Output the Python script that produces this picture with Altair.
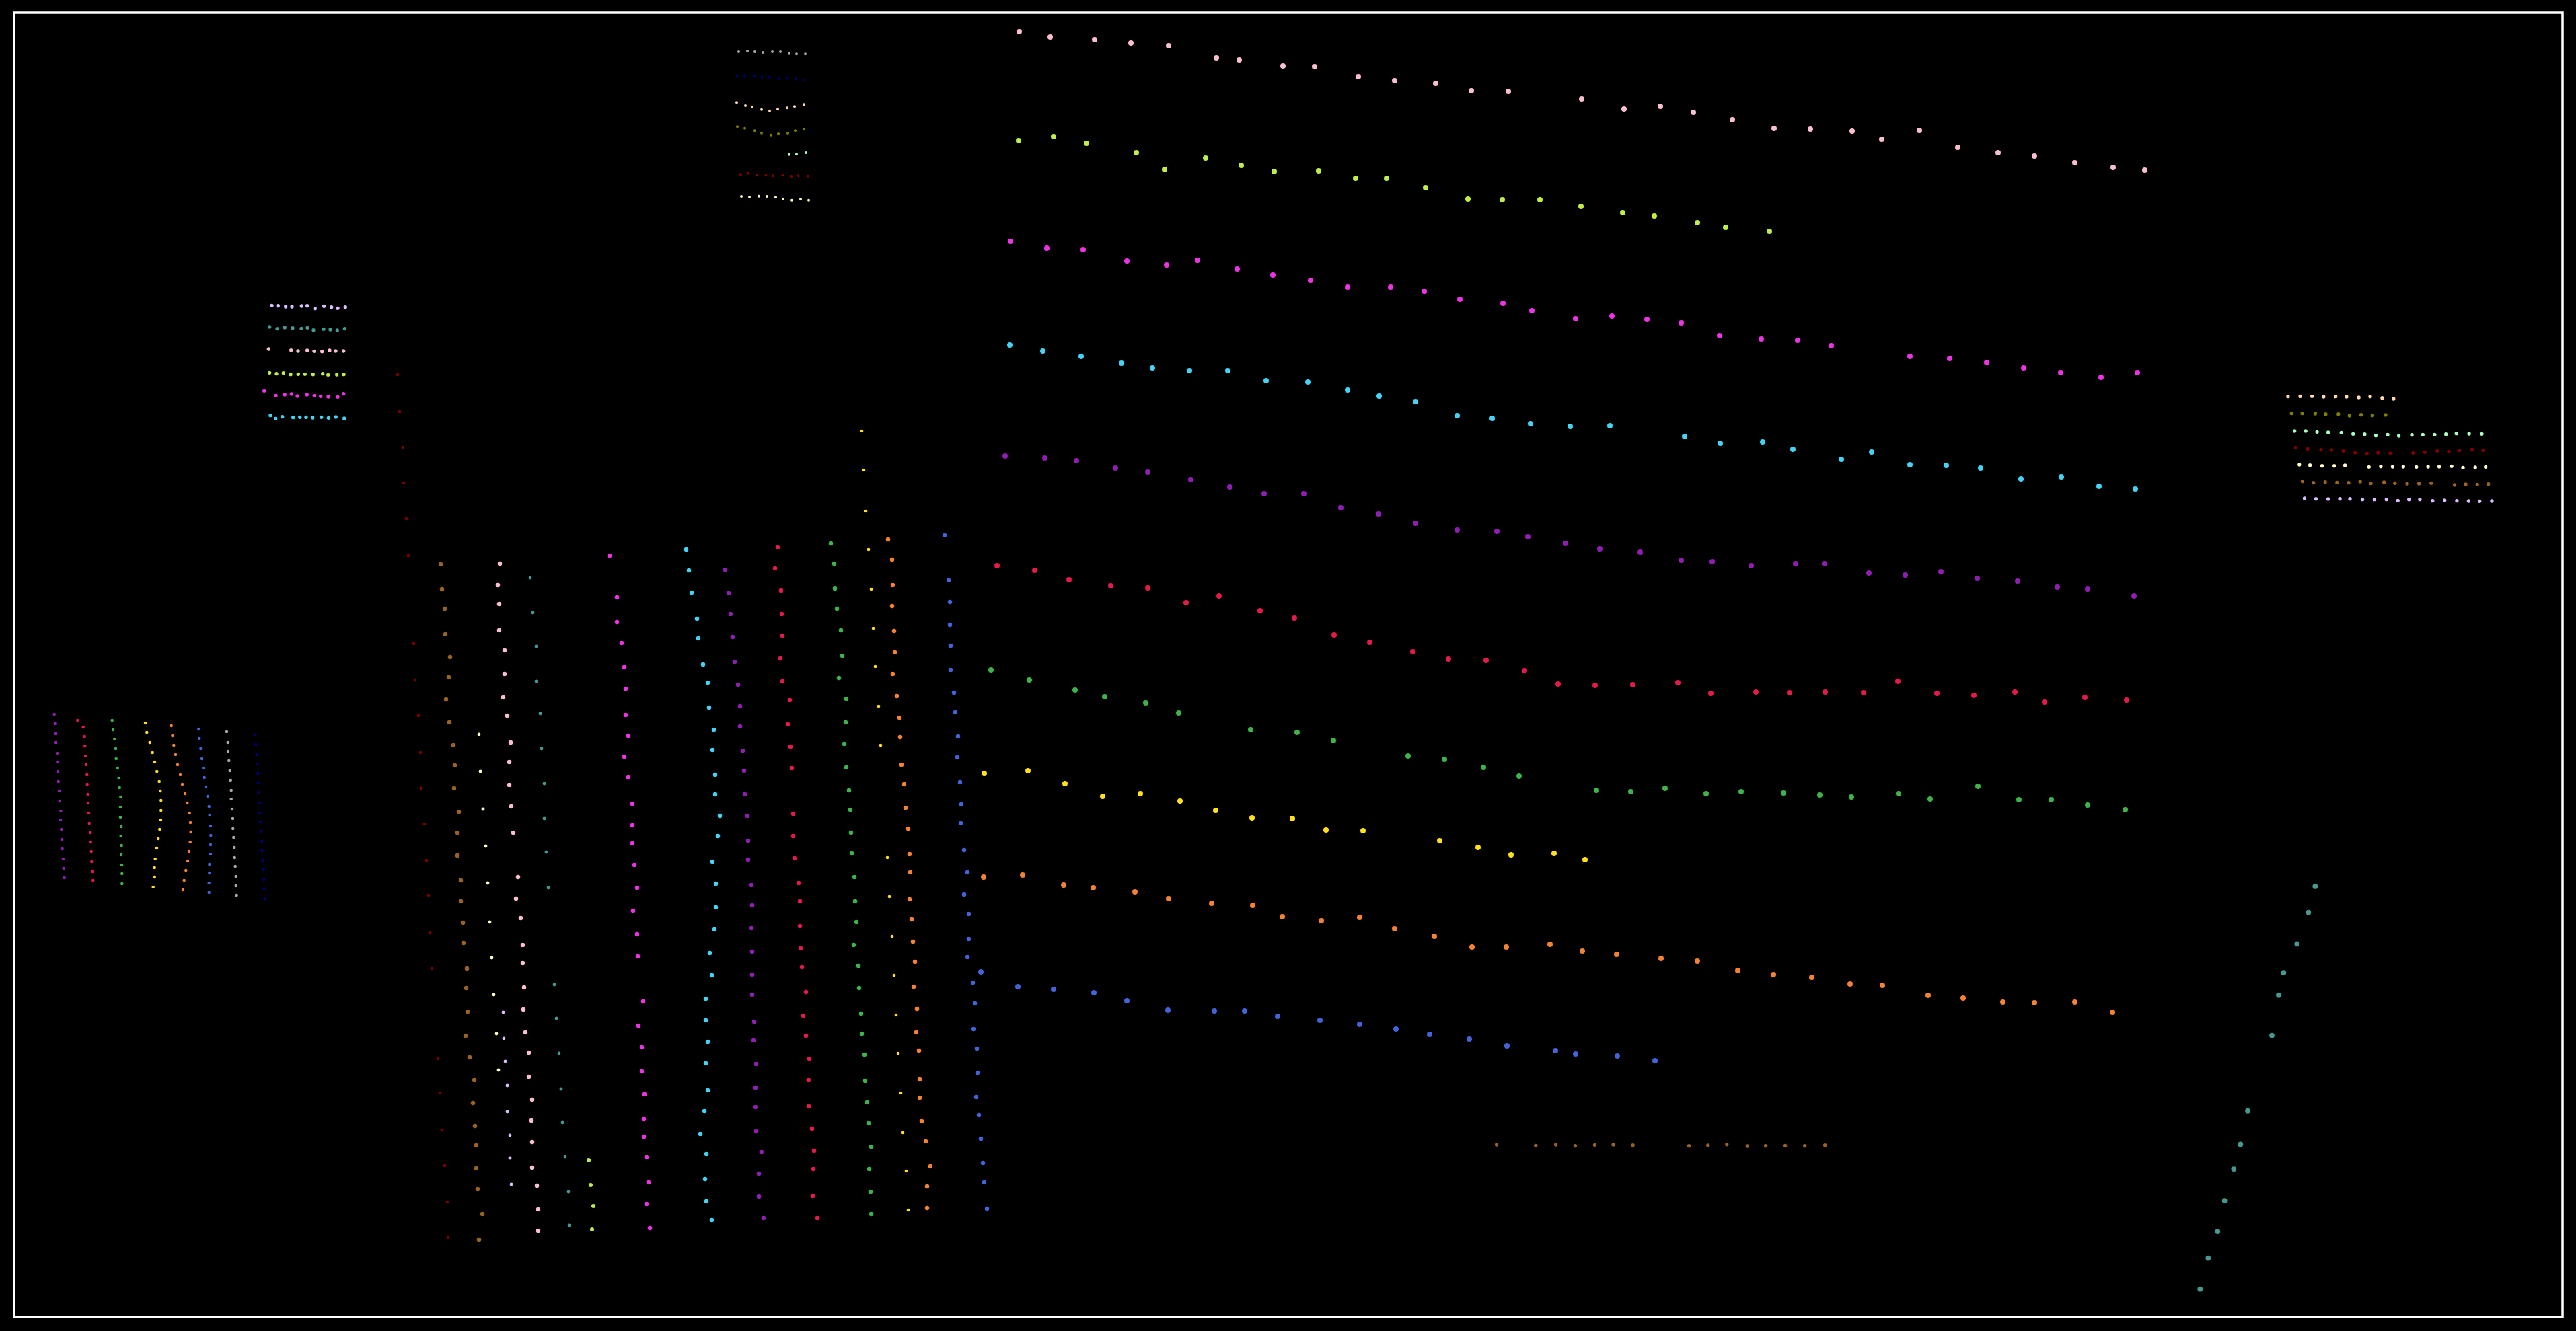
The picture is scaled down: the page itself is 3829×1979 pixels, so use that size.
import altair as alt
import pandas as pd

# ---- palette (series colours) ----
PALETTE = {
    "red": "#e6194B", "green": "#3cb44b", "yellow": "#ffe119", "blue": "#4363d8",
    "orange": "#f58231", "purple": "#911eb4", "cyan": "#42d4f4", "magenta": "#f032e6",
    "lime": "#bfef45", "pink": "#fabed4", "teal": "#469990", "lavender": "#dcbeff",
    "brown": "#9A6324", "beige": "#fffac8", "maroon": "#800000", "mint": "#aaffc3",
    "olive": "#808000", "apricot": "#ffd8b1", "navy": "#000075", "grey": "#a9a9a9",
}

# ---- top-right panel ----
TR_PINK_X = [1515,1561,1627,1681,1737,1808,1842,1907,1954,2019,2073,2134,2187,2242,2351,2414,2468,2517,2575,2637,2691,2753,2797,2853,2910,2970,3024,3084,3141,3188]
TR_PINK_Y = [47,55,59,64,68,86,89,98,99,114,120,124,135,136,147,162,158,167,178,191,192,195,207,194,219,227,232,242,249,253]
TR_LIME_X = [1514,1566,1615,1689,1731,1792,1845,1894,1960,2015,2061,2119,2182,2233,2289,2350,2412,2459,2523,2565,2630]
TR_LIME_Y = [209,203,213,227,252,235,246,255,254,265,265,279,296,297,297,307,316,321,331,338,344]
TR_MAG_X = [1502,1556,1610,1675,1734,1780,1839,1892,1948,2003,2067,2117,2170,2234,2277,2342,2396,2448,2499,2556,2618,2672,2722,2839,2898,2953,3008,3063,3123,3177]
TR_MAG_Y = [359,369,371,388,394,387,400,409,417,427,427,433,445,451,462,474,470,475,480,499,504,506,514,530,533,539,547,554,561,554]
TR_CYAN_X = [1501,1550,1607,1667,1713,1768,1825,1882,1944,2003,2050,2104,2166,2218,2275,2334,2393,2504,2557,2620,2665,2737,2782,2839,2893,2944,3004,3064,3120,3174]
TR_CYAN_Y = [513,522,530,540,547,551,551,566,568,580,589,597,618,622,630,634,633,649,659,657,668,683,672,691,692,696,712,709,723,727]
TR_PURP_X = [1494,1553,1600,1658,1706,1770,1828,1879,1938,1993,2049,2104,2166,2225,2271,2327,2378,2438,2499,2545,2603,2669,2712,2778,2832,2885,2939,2999,3058,3103,3172]
TR_PURP_Y = [678,681,685,696,702,713,724,734,734,755,764,778,788,790,798,808,816,821,833,835,841,838,838,852,855,850,860,864,873,876,886]
TR_RED_X = [1482,1538,1589,1651,1706,1763,1812,1873,1924,1983,2036,2100,2153,2209,2266,2316,2371,2427,2494,2543,2610,2660,2713,2770,2821,2879,2934,2995,3039,3099,3161]
TR_RED_Y = [841,848,862,871,874,896,886,908,919,944,955,969,980,982,997,1017,1019,1018,1015,1031,1029,1030,1029,1030,1013,1031,1034,1029,1044,1037,1041]
TR_GREEN_X = [1473,1530,1598,1642,1703,1752,1859,1928,1982,2093,2147,2205,2258,2373,2424,2475,2536,2588,2651,2705,2752,2822,2869,2940,3001,3049,3103,3159]
TR_GREEN_Y = [996,1011,1026,1036,1045,1060,1085,1089,1101,1124,1129,1141,1154,1175,1177,1172,1180,1177,1179,1182,1185,1180,1188,1169,1189,1189,1197,1204]
TR_YEL_X = [1463,1528,1583,1639,1695,1754,1807,1861,1921,1971,2026,2140,2197,2246,2310,2356]
TR_YEL_Y = [1150,1146,1165,1184,1180,1191,1205,1216,1217,1234,1235,1250,1260,1271,1269,1278]
TR_ORA_X = [1462,1520,1581,1625,1687,1737,1801,1862,1906,1964,2021,2073,2132,2188,2239,2304,2352,2403,2469,2523,2583,2636,2693,2750,2798,2866,2918,2977,3024,3084,3140]
TR_ORA_Y = [1304,1301,1316,1320,1326,1336,1343,1346,1363,1369,1364,1381,1392,1408,1408,1404,1414,1419,1425,1429,1443,1449,1453,1463,1465,1480,1484,1490,1491,1490,1505]
TR_BLUE_X = [1458,1513,1566,1626,1675,1736,1805,1850,1899,1962,2021,2075,2125,2184,2240,2312,2342,2404,2460]
TR_BLUE_Y = [1445,1467,1471,1476,1488,1502,1503,1503,1511,1517,1523,1530,1538,1545,1555,1562,1567,1570,1577]

# ---- centre columns panel ----
CC_MAROON_X = [591,594,599,600,604,607,615,617,622,625,626,631,634,637,639,642,651,654,657,661,665,666]
CC_MAROON_Y = [557,612,665,718,771,826,957,1011,1064,1119,1172,1225,1279,1331,1387,1440,1574,1625,1680,1733,1787,1840]
CC_BROWN_X = [655,657,661,662,669,667,663,668,674,676,675,682,680,680,685,685,688,689,694,693,695,692,698,705,703,706,708,708,710,717,712]
CC_BROWN_Y = [839,876,905,943,977,1007,1040,1074,1108,1138,1172,1207,1238,1272,1309,1340,1372,1402,1440,1469,1504,1540,1572,1606,1640,1674,1703,1737,1768,1805,1843]
CC_BEIGE_X = [712,714,718,722,725,728,731,734,738,741]
CC_BEIGE_Y = [1092,1147,1203,1258,1313,1371,1424,1479,1537,1591]
CC_PINK_X = [743,740,742,742,750,750,748,754,759,757,757,760,763,770,767,774,777,777,779,778,781,786,786,791,790,791,791,798,800,800]
CC_PINK_Y = [838,870,898,937,967,1002,1037,1064,1104,1133,1167,1199,1238,1304,1336,1365,1405,1432,1468,1501,1535,1565,1601,1635,1666,1698,1736,1763,1798,1830]
CC_LAV_X = [748,749,751,754,754,758,758,760]
CC_LAV_Y = [1505,1544,1578,1614,1653,1688,1722,1761]
CC_TEAL_X = [788,792,797,797,803,805,809,809,812,815,824,827,831,834,836,840,845,846]
CC_TEAL_Y = [859,911,961,1013,1061,1113,1165,1217,1267,1320,1464,1514,1566,1619,1669,1720,1772,1822]
CC_LIME_X = [875,878,882,880]
CC_LIME_Y = [1725,1762,1793,1828]
CC_MAG_X = [906,917,917,924,928,930,930,934,928,934,940,940,940,943,947,941,947,948,956,949,954,954,958,957,957,961,964,961,966]
CC_MAG_Y = [826,888,925,956,992,1024,1063,1094,1125,1156,1195,1227,1254,1286,1320,1354,1389,1422,1489,1525,1557,1593,1627,1664,1690,1721,1758,1790,1826]
CC_CYAN_X = [1020,1024,1028,1036,1038,1045,1052,1054,1061,1059,1063,1063,1070,1067,1059,1064,1064,1062,1055,1058,1049,1049,1052,1049,1052,1047,1041,1050,1048,1050,1058]
CC_CYAN_Y = [817,848,881,920,949,988,1015,1052,1085,1115,1152,1181,1213,1243,1281,1314,1349,1382,1417,1450,1485,1517,1549,1581,1621,1652,1686,1716,1753,1786,1814]
CC_PURP_X = [1078,1083,1086,1089,1092,1097,1100,1100,1104,1106,1107,1111,1112,1112,1117,1118,1117,1118,1118,1118,1121,1120,1124,1123,1123,1124,1132,1128,1128,1135]
CC_PURP_Y = [847,882,913,947,984,1018,1050,1080,1116,1146,1181,1213,1250,1278,1316,1346,1380,1415,1449,1479,1519,1547,1582,1617,1646,1682,1713,1745,1779,1811]
CC_RED_X = [1156,1152,1161,1162,1163,1160,1163,1174,1171,1175,1177,1179,1179,1181,1187,1189,1189,1190,1192,1198,1194,1198,1203,1202,1202,1207,1210,1209,1208,1215]
CC_RED_Y = [814,845,878,913,945,979,1013,1041,1077,1110,1142,1210,1243,1276,1313,1340,1377,1410,1438,1475,1510,1540,1574,1606,1645,1678,1711,1738,1778,1811]
CC_GREEN_X = [1235,1240,1241,1244,1250,1252,1247,1258,1257,1255,1258,1262,1264,1265,1266,1270,1271,1273,1269,1276,1277,1280,1281,1285,1286,1289,1291,1295,1292,1294,1295]
CC_GREEN_Y = [808,838,875,905,937,975,1008,1039,1074,1106,1141,1175,1204,1238,1269,1304,1340,1371,1405,1436,1469,1507,1537,1568,1607,1639,1670,1705,1738,1772,1805]
CC_YEL_X = [1281,1284,1287,1291,1295,1298,1301,1306,1309,1319,1322,1326,1329,1332,1335,1339,1342,1347,1350]
CC_YEL_Y = [641,699,760,817,876,934,991,1050,1108,1275,1333,1392,1450,1509,1566,1625,1684,1741,1799]
CC_ORA_X = [1320,1326,1327,1326,1329,1330,1327,1333,1337,1338,1340,1344,1346,1350,1352,1353,1352,1355,1357,1360,1358,1363,1362,1366,1367,1367,1370,1376,1383,1378,1378]
CC_ORA_Y = [802,832,870,901,938,970,1002,1035,1067,1096,1137,1166,1201,1232,1270,1297,1337,1367,1400,1430,1467,1500,1535,1562,1605,1632,1667,1697,1734,1764,1796]
CC_BLUE_X = [1404,1410,1412,1412,1413,1413,1418,1420,1424,1423,1427,1429,1428,1433,1438,1433,1440,1440,1438,1446,1449,1447,1452,1453,1451,1455,1458,1461,1463,1467]
CC_BLUE_Y = [796,863,895,929,960,996,1030,1059,1095,1126,1163,1196,1224,1264,1297,1330,1359,1396,1423,1461,1492,1530,1559,1595,1631,1658,1693,1729,1758,1797]

# ---- left-bottom panel ----
LB_PURP_X = [80.7,81.7,82.7,83,85,85.3,86,86.7,88,88.7,90.3,90,91.3,92.3,92.7,94,94.7,95.7]
LB_PURP_Y = [1062,1076,1091,1104,1120,1133,1147,1162,1176,1191,1206,1219,1233,1248,1262,1277,1291,1305]
LB_RED_X = [115.3,123.7,125.7,126.3,127,128,129.3,129.7,130.7,131,132,132.7,134.3,134.7,135.7,136.3,137.3,138.3]
LB_RED_Y = [1071,1081,1095,1109,1124,1137,1152,1166,1181,1194,1209,1224,1238,1252,1266,1281,1296,1309]
LB_GREEN_X = [166.7,168,170.3,172,172.7,174.7,176.7,177.7,179.3,179,179,180.3,179.7,180.7,180,181,181.3,181.3]
LB_GREEN_Y = [1071,1085,1099,1113,1128,1142,1157,1171,1185,1200,1215,1229,1243,1257,1271,1286,1299,1314]
LB_YEL_X = [216,218.3,222.7,226.7,230,233.3,236.7,238.3,239.3,239.3,239,237.3,235.3,233,230.7,229.7,229.7,227.7]
LB_YEL_Y = [1075,1089,1104,1119,1133,1147,1162,1176,1190,1205,1219,1233,1247,1261,1277,1290,1304,1319]
LB_ORA_X = [254.7,256.3,258.3,261,264,268,271,275,278.3,281.7,283,283.7,282.7,281,279,276.3,273.7,272]
LB_ORA_Y = [1079,1094,1108,1122,1137,1152,1166,1180,1194,1209,1223,1237,1252,1266,1280,1294,1309,1323]
LB_BLUE_X = [295.3,296.3,298.3,300,302.3,303.7,306,308.7,310.7,311.7,313,313.3,313,313,311.3,311.3,310.7,310.7]
LB_BLUE_Y = [1084,1098,1113,1128,1142,1156,1170,1184,1199,1212,1228,1242,1256,1270,1285,1298,1313,1327]
LB_GREY_X = [337,338.7,339,340.3,341.7,342.7,343.7,343.7,345,346,346.3,347.3,348.3,348.7,349.7,350.7,350.7,351.7]
LB_GREY_Y = [1088,1104,1117,1131,1146,1160,1175,1188,1203,1217,1232,1245,1260,1275,1288,1303,1317,1331]
LB_NAVY_X = [379.3,380.3,381.3,381.7,383.3,383.7,384.7,386,386,387,388.3,389.3,389.7,390.7,391.7,392.3,393,394]
LB_NAVY_Y = [1093,1107,1122,1136,1150,1164,1178,1194,1209,1222,1236,1251,1265,1279,1293,1308,1322,1336]

# ---- top-centre rows ----
TC_GREY_X = [1098,1111,1122,1134,1148,1160,1173,1184,1197]
TC_GREY_Y = [77,76,77,78,77,77,79.7,80.3,80.3]
TC_NAVY_X = [1095.5,1106.7,1121.4,1132.6,1143.8,1157.6,1169.6,1183.5,1195.1]
TC_NAVY_Y = [112.7,113.7,113,114.7,114.7,117,116.3,117.7,118.7]
TC_APRI_X = [1095,1108,1118,1132,1144,1156,1170,1181,1195]
TC_APRI_Y = [152.3,157,158.7,162.7,164.7,162.3,160.3,158.3,155.3]
TC_OLIVE_X = [1096,1107,1122,1132,1146,1157,1171,1182,1195]
TC_OLIVE_Y = [188.3,190.7,194.3,197.7,200.7,199,198,194.3,192.3]
TC_MINT_X = [1173,1184,1198]
TC_MINT_Y = [229.7,229.3,227]
TC_MAROON_X = [1101,1112.5,1125.4,1138.4,1149,1163.4,1176.3,1186.6,1201]
TC_MAROON_Y = [259.3,257.7,259.7,260,261.3,260.3,262,261.3,261.7]
TC_BEIGE_X = [1102,1114,1128,1140,1153,1164,1177,1190,1202]
TC_BEIGE_Y = [292,293,291.7,292,293.3,295.7,297.7,296,297.7]

# ---- top-left rows ----
TL_LAV_X = [404,413.3,424.7,434,448.3,456.7,468.3,481.7,492.7,502,513.3]
TL_LAV_Y = [454.3,454.7,456,456,455,454.7,458.7,455.3,456.7,458.3,456.7]
TL_TEAL_X = [400.7,412,423.3,435,448,457,466,481,491,501.3,512.3]
TL_TEAL_Y = [486,488.7,487,487.7,488.3,487.3,490.7,489.3,490,491,488.7]
TL_PINK_X = [399.3,432.7,443,456.7,467,478.7,490,499,510.7]
TL_PINK_Y = [519,520.7,522,521,522.3,522.7,521,522,522]
TL_LIME_X = [400.7,411,421.3,432,443.3,453.3,465.3,479.7,487.7,500.7,511]
TL_LIME_Y = [554.3,555.7,554.7,556.7,556.3,556.3,556.7,555.7,557.3,557,556.7]
TL_MAG_X = [392.7,410,423.3,433.3,442,456.3,467.3,476.7,488,502,510.7]
TL_MAG_Y = [581.3,588.3,587,586,589,587,588.3,589.3,590,590.3,585.7]
TL_CYAN_X = [402,409.7,419.7,435.7,445.7,455,464.7,477.7,488.3,499.3,511.7]
TL_CYAN_Y = [617.7,622.3,619.7,620.7,620.3,620.3,621,620.3,621.3,620,622]

# ---- right rows ----
RL_APRI_X = [3400.9,3419.1,3436.6,3453.8,3471.7,3487.9,3506.1,3523,3540.9,3557.8]
RL_APRI_Y = [589.7,589.3,589.3,590,589.7,590,591,589.7,591.7,593]
RL_OLIVE_X = [3406.3,3422.1,3441.4,3456.9,3475.8,3492.3,3509.5,3526.4,3546]
RL_OLIVE_Y = [614.7,614.7,615,615.7,615.7,618,616.7,617.7,617]
RL_MINT_X = [3410.7,3427.2,3444.1,3460.6,3480.2,3497.7,3514.9,3531.5,3549,3565.6,3585.1,3601.3,3618.9,3635.7,3651.2,3670.1,3689]
RL_MINT_Y = [641,641,642.3,643,643.3,645.3,645.7,647.7,646.3,648,646.7,646.3,646.3,645.7,644.7,645,645.3]
RL_MAROON_X = [3412.4,3430.2,3450.1,3465.7,3483.2,3500.8,3518,3534.8,3553,3586.8,3604.3,3622.9,3640.1,3655.6,3674.5,3691]
RL_MAROON_Y = [665.3,667.3,668.7,669,670.3,673,674.3,673,674,673.3,672.3,670.3,671.3,669.7,668.3,669.3]
RL_BEIGE_X = [3417.8,3433.6,3451.5,3469.7,3485.6,3521.3,3538.9,3556.4,3572.3,3591.8,3609.1,3625.6,3644.1,3661,3679.2,3694.7]
RL_BEIGE_Y = [691,691.7,692.7,692.7,692,694.3,693.7,694,694,694.3,694,694,693.3,695.3,695,694.3]
RL_BROWN_X = [3422.5,3438.7,3456.2,3473.8,3491,3508.2,3524,3543.6,3559.8,3578,3595.6,3613.8,3648.5,3665.1,3682.3,3698.8]
RL_BROWN_Y = [715.7,717.7,716.7,717.3,717.7,716,718.7,717,718.3,719,719,718.3,721,720,720.3,719.7]
RL_LAV_X = [3425.5,3442.4,3460.6,3478.1,3493,3511.5,3529.4,3547.3,3564.2,3580.7,3596.9,3615.8,3633.7,3651.9,3669.4,3685.7,3703.9]
RL_LAV_Y = [741,741.7,742,741.7,741.7,742.7,742.7,742.7,744.3,742.7,742.7,744.7,744,744.7,745,745.3,745]

# ---- teal diagonal, brown horizontal ----
TD_TEAL_X = [3441.3,3431.3,3414.3,3394.3,3387,3377,3341,3330.3,3320.3,3306.7,3296.3,3282.3,3270.3]
TD_TEAL_Y = [1317.9,1356.5,1403.4,1446.2,1479.7,1539.6,1651.7,1701.4,1738.1,1785.1,1831.1,1870.6,1916.7]
BH_BROWN_X = [2224.6,2282.8,2312.6,2341.4,2370.4,2398,2427.1,2510.5,2538.8,2566.8,2597.4,2624.6,2653.6,2682.7,2712.6]
BH_BROWN_Y = [1702,1703.3,1702,1703.7,1702.3,1702,1702.7,1703.7,1703,1701.7,1704,1703.7,1703.3,1703.7,1702.7]

SERIES = [
    ("pink", TR_PINK_X, TR_PINK_Y, 64), ("lime", TR_LIME_X, TR_LIME_Y, 64),
    ("magenta", TR_MAG_X, TR_MAG_Y, 64), ("cyan", TR_CYAN_X, TR_CYAN_Y, 64),
    ("purple", TR_PURP_X, TR_PURP_Y, 64), ("red", TR_RED_X, TR_RED_Y, 64),
    ("green", TR_GREEN_X, TR_GREEN_Y, 64), ("yellow", TR_YEL_X, TR_YEL_Y, 64),
    ("orange", TR_ORA_X, TR_ORA_Y, 64), ("blue", TR_BLUE_X, TR_BLUE_Y, 64),
    ("maroon", CC_MAROON_X, CC_MAROON_Y, 22), ("brown", CC_BROWN_X, CC_BROWN_Y, 42),
    ("beige", CC_BEIGE_X, CC_BEIGE_Y, 24), ("pink", CC_PINK_X, CC_PINK_Y, 42),
    ("lavender", CC_LAV_X, CC_LAV_Y, 24), ("teal", CC_TEAL_X, CC_TEAL_Y, 24),
    ("lime", CC_LIME_X, CC_LIME_Y, 36), ("magenta", CC_MAG_X, CC_MAG_Y, 42),
    ("cyan", CC_CYAN_X, CC_CYAN_Y, 42), ("purple", CC_PURP_X, CC_PURP_Y, 42),
    ("red", CC_RED_X, CC_RED_Y, 42), ("green", CC_GREEN_X, CC_GREEN_Y, 42),
    ("yellow", CC_YEL_X, CC_YEL_Y, 22), ("orange", CC_ORA_X, CC_ORA_Y, 42),
    ("blue", CC_BLUE_X, CC_BLUE_Y, 42),
    ("purple", LB_PURP_X, LB_PURP_Y, 20), ("red", LB_RED_X, LB_RED_Y, 20),
    ("green", LB_GREEN_X, LB_GREEN_Y, 20), ("yellow", LB_YEL_X, LB_YEL_Y, 20),
    ("orange", LB_ORA_X, LB_ORA_Y, 20), ("blue", LB_BLUE_X, LB_BLUE_Y, 20),
    ("grey", LB_GREY_X, LB_GREY_Y, 20), ("navy", LB_NAVY_X, LB_NAVY_Y, 20),
    ("grey", TC_GREY_X, TC_GREY_Y, 16), ("navy", TC_NAVY_X, TC_NAVY_Y, 16),
    ("apricot", TC_APRI_X, TC_APRI_Y, 16), ("olive", TC_OLIVE_X, TC_OLIVE_Y, 16),
    ("mint", TC_MINT_X, TC_MINT_Y, 16), ("maroon", TC_MAROON_X, TC_MAROON_Y, 16),
    ("beige", TC_BEIGE_X, TC_BEIGE_Y, 16),
    ("lavender", TL_LAV_X, TL_LAV_Y, 28), ("teal", TL_TEAL_X, TL_TEAL_Y, 28),
    ("pink", TL_PINK_X, TL_PINK_Y, 28), ("lime", TL_LIME_X, TL_LIME_Y, 28),
    ("magenta", TL_MAG_X, TL_MAG_Y, 28), ("cyan", TL_CYAN_X, TL_CYAN_Y, 28),
    ("apricot", RL_APRI_X, RL_APRI_Y, 28), ("olive", RL_OLIVE_X, RL_OLIVE_Y, 28),
    ("mint", RL_MINT_X, RL_MINT_Y, 28), ("maroon", RL_MAROON_X, RL_MAROON_Y, 28),
    ("beige", RL_BEIGE_X, RL_BEIGE_Y, 28), ("brown", RL_BROWN_X, RL_BROWN_Y, 28),
    ("lavender", RL_LAV_X, RL_LAV_Y, 28),
    ("teal", TD_TEAL_X, TD_TEAL_Y, 60), ("brown", BH_BROWN_X, BH_BROWN_Y, 28),
]

rows = []
for name, xs, ys, sz in SERIES:
    for xv, yv in zip(xs, ys):
        rows.append({"x": xv, "y": yv, "color": PALETTE[name], "sz": sz})
df = pd.DataFrame(rows)

LEFT, TOP, W, H = 21, 19, 3788, 1939

chart = alt.Chart(df).mark_circle(opacity=1).encode(
    x=alt.X("x:Q", axis=None, scale=alt.Scale(domain=[LEFT, LEFT + W], nice=False, zero=False)),
    y=alt.Y("y:Q", axis=None, scale=alt.Scale(domain=[TOP, TOP + H], nice=False, zero=False, reverse=True)),
    color=alt.Color("color:N", scale=None),
    size=alt.Size("sz:Q", scale=None),
).properties(
    width=W, height=H,
    background="#000000",
    padding={"left": LEFT, "top": TOP, "right": 3829 - LEFT - W, "bottom": 1979 - TOP - H},
    autosize=alt.AutoSizeParams(type="none"),
).configure_view(
    stroke="#ffffff", strokeWidth=3.5, fill="#000000"
)

chart.save("out.html", embed_options={"renderer": "svg", "actions": False})
